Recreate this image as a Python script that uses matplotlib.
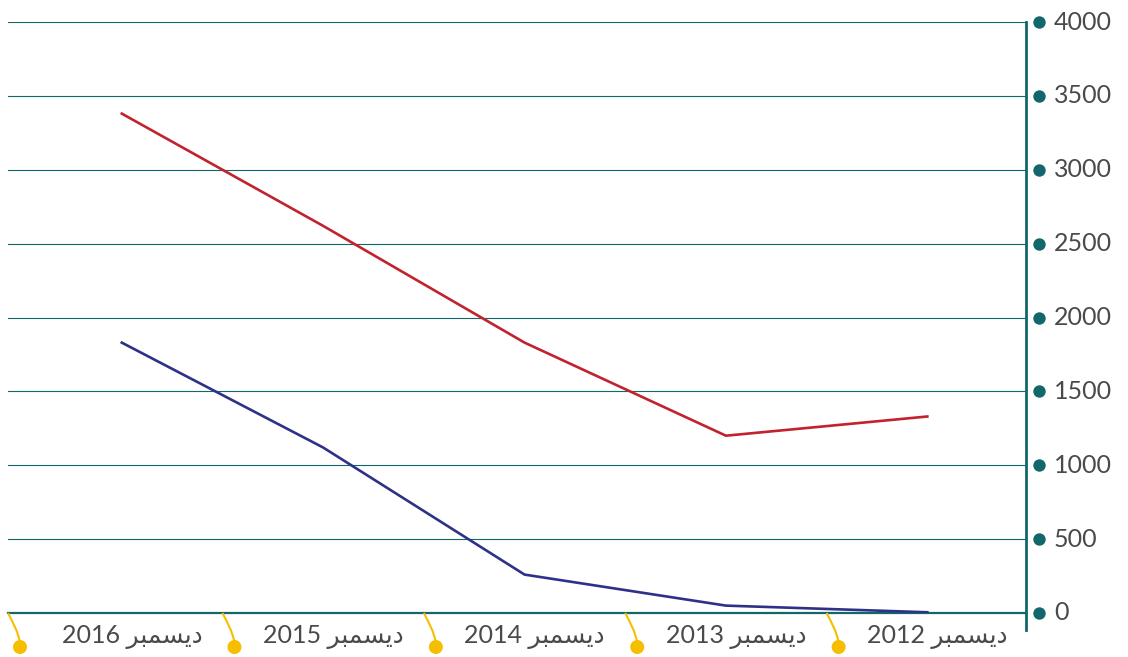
import matplotlib
matplotlib.use('Agg')
import matplotlib.pyplot as plt
from matplotlib.path import Path
from matplotlib.patches import PathPatch, Circle
from matplotlib.transforms import IdentityTransform

plt.rcParams['font.family'] = ['Lato', 'DejaVu Sans']

# data (right to left in the original, so 2016 is on the left)
years = ['2016', '2015', '2014', '2013', '2012']
month = 'ديسمبر'
red_values = [3380, 2620, 1830, 1200, 1330]
blue_values = [1830, 1120, 260, 50, 5]
y_ticks = [0, 500, 1000, 1500, 2000, 2500, 3000, 3500, 4000]

TEAL = '#12676b'
RED = '#c1222e'
BLUE = '#2e3188'
YELLOW = '#f7be00'
TEXT = '#4a4a4a'

# simple arabic shaping -> presentation forms, visual order
forms = {  # isolated, final, initial, medial
    'د': ('\uFEA9', '\uFEAA', None, None),
    'ي': ('\uFEF1', '\uFEF2', '\uFEF3', '\uFEF4'),
    'س': ('\uFEB1', '\uFEB2', '\uFEB3', '\uFEB4'),
    'م': ('\uFEE1', '\uFEE2', '\uFEE3', '\uFEE4'),
    'ب': ('\uFE8F', '\uFE90', '\uFE91', '\uFE92'),
    'ر': ('\uFEAD', '\uFEAE', None, None),
}

def shape(word):
    out = []
    for i, ch in enumerate(word):
        prev_joins = i > 0 and forms[word[i - 1]][2] is not None
        next_ok = i < len(word) - 1 and forms[ch][2] is not None
        iso, fin, ini, med = forms[ch]
        if prev_joins and next_ok:
            out.append(med)
        elif prev_joins:
            out.append(fin)
        elif next_ok:
            out.append(ini)
        else:
            out.append(iso)
    return ''.join(reversed(out))

fig = plt.figure(figsize=(11.28, 6.57), dpi=100)
ax = fig.add_axes([8 / 1128, 1 - 613 / 657, 1018 / 1128, 591 / 657])

x = list(range(len(years)))
ax.set_xlim(-0.565, 4.49)
ax.set_ylim(0, 4000)

for t in y_ticks[1:]:
    ax.axhline(t, color=TEAL, lw=0.8, zorder=1)

ax.plot(x, red_values, color=RED, lw=1.9, zorder=3)
ax.plot(x, blue_values, color=BLUE, lw=1.9, zorder=3)

ax.axhline(0, color=TEAL, lw=1.6, zorder=2, clip_on=False)

for s in ax.spines.values():
    s.set_visible(False)
ax.set_xticks([])
ax.set_yticks([])

# right axis line extending below zero
ax.plot([1, 1], [0 - 17 / 591, 1], transform=ax.transAxes, color=TEAL,
        lw=2, clip_on=False, zorder=2)

ytr = ax.get_yaxis_transform()
for t in y_ticks:
    ax.scatter([1 + 13 / 1018], [t], s=80, color=TEAL, transform=ytr,
               clip_on=False, zorder=4, linewidths=0)
    ax.text(1 + 28 / 1018, t, str(t), transform=ytr, ha='left', va='center',
            fontsize=18, color=TEXT)

xtr = ax.get_xaxis_transform()
for i, yr in enumerate(years):
    ax.text(i + 0.05, -24 / 591, yr + ' ' + shape(month), transform=xtr,
            ha='center', va='center', fontsize=18, color=TEXT)

# yellow hanging markers at category boundaries
bounds = [ax.get_xlim()[0], 0.5, 1.5, 2.5, 3.5]
for b in bounds:
    px, py = ax.transData.transform((b, 0))
    verts = [(px, py), (px + 5, py - 10), (px + 10, py - 18), (px + 12, py - 30)]
    codes = [Path.MOVETO, Path.CURVE4, Path.CURVE4, Path.CURVE4]
    fig.add_artist(PathPatch(Path(verts, codes), transform=IdentityTransform(),
                             fill=False, edgecolor=YELLOW, lw=1.5))
    fig.add_artist(Circle((px + 12, py - 34), 7, transform=IdentityTransform(),
                          facecolor=YELLOW, edgecolor='none'))

fig.savefig('out.png', dpi=100)
